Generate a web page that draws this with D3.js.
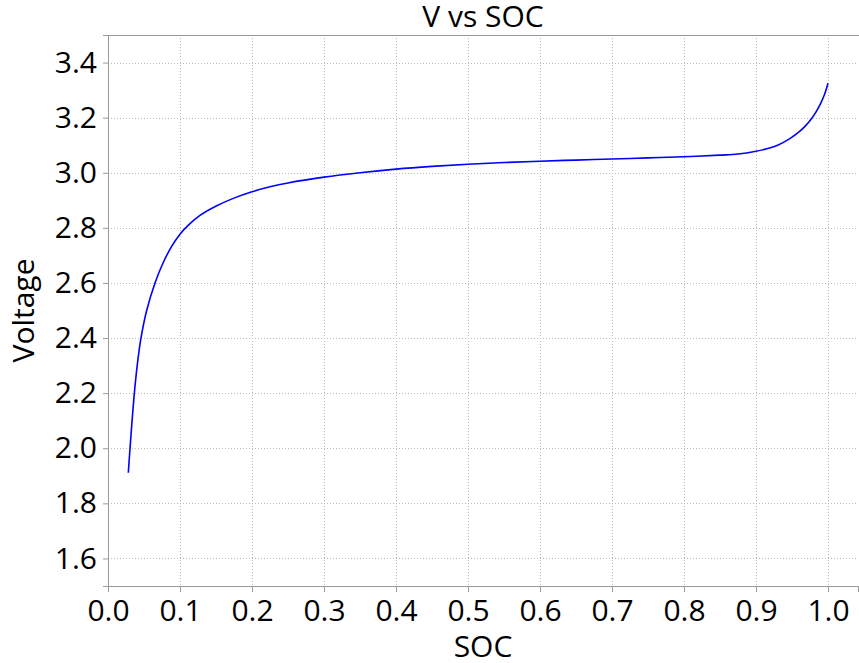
<!DOCTYPE html>
<html lang="en">
<head>
    <meta charset="UTF-8">
    <title>V vs SOC</title>
    <script src="https://cdn.jsdelivr.net/npm/d3@7"></script>
    <style>
        body { margin: 0; background: #fff; }
        text { font-family: "Open Sans", sans-serif; fill: #000; }
    </style>
</head>
<body>
    <svg id="myPlot" width="859" height="663"></svg>
    <script>
        // Data
        const soc = [0.0282, 0.0306, 0.0366, 0.041, 0.0458, 0.0537, 0.0653, 0.0769, 0.0884, 0.1,
                     0.1116, 0.1278, 0.151, 0.174, 0.2, 0.225, 0.25, 0.3, 0.35, 0.4,
                     0.45, 0.5, 0.55, 0.6, 0.65, 0.7, 0.75, 0.8, 0.85, 0.875,
                     0.9, 0.915, 0.93, 0.947, 0.961, 0.969, 0.977, 0.983, 0.989, 0.995,
                     1.0];
        const voltage = [1.911, 2.0, 2.2, 2.31, 2.4, 2.5, 2.6, 2.675, 2.733, 2.777,
                         2.810, 2.845, 2.880, 2.907, 2.931, 2.949, 2.963, 2.984, 3.0, 3.013,
                         3.023, 3.031, 3.037, 3.042, 3.046, 3.050, 3.054, 3.058, 3.064, 3.068,
                         3.078, 3.087, 3.100, 3.124, 3.151, 3.171, 3.196, 3.219, 3.247, 3.283,
                         3.325];
        const xTicks = [0, 0.1, 0.2, 0.3, 0.4, 0.5, 0.6, 0.7, 0.8, 0.9, 1.0];
        const yTicks = [1.6, 1.8, 2.0, 2.2, 2.4, 2.6, 2.8, 3.0, 3.2, 3.4];

        const mLeft = 108, mRight = 858, mTop = 35, mBottom = 586;
        const axisColor = "#999";

        const svg = d3.select("#myPlot");

        const x = d3.scaleLinear().domain([0, 750 / 720]).range([mLeft, mRight]);
        const y = d3.scaleLinear().domain([1.5, 3.5]).range([mBottom, mTop]);

        // Grid
        const grid = svg.append("g")
          .attr("stroke", "#bbb")
          .attr("stroke-width", 1)
          .attr("stroke-dasharray", "1,2");
        grid.selectAll(".vx").data(xTicks.slice(1)).enter()
          .append("line")
          .attr("x1", d => Math.round(x(d)) + 0.5).attr("x2", d => Math.round(x(d)) + 0.5)
          .attr("y1", mTop).attr("y2", mBottom);
        grid.selectAll(".hy").data(yTicks).enter()
          .append("line")
          .attr("y1", d => Math.round(y(d)) + 0.5).attr("y2", d => Math.round(y(d)) + 0.5)
          .attr("x1", mLeft).attr("x2", mRight);

        // Top frame line
        svg.append("line")
          .attr("x1", mLeft).attr("x2", 859)
          .attr("y1", mTop + 0.5).attr("y2", mTop + 0.5)
          .attr("stroke", axisColor);

        // X Axis
        const xAxis = svg.append("g")
          .attr("transform", "translate(0," + mBottom + ")")
          .call(d3.axisBottom(x).tickValues(xTicks).tickFormat(d3.format(".1f"))
            .tickSize(6).tickPadding(8));
        xAxis.select(".domain").attr("stroke", axisColor);
        xAxis.selectAll(".tick line").attr("stroke", axisColor);
        xAxis.selectAll(".tick text")
          .attr("font-size", 30).attr("font-family", "Open Sans").attr("fill", "#000");

        // Y Axis
        const yAxis = svg.append("g")
          .attr("transform", "translate(" + mLeft + ",0)")
          .call(d3.axisLeft(y).tickValues(yTicks).tickFormat(d3.format(".1f"))
            .tickSize(5).tickPadding(6));
        yAxis.select(".domain").attr("stroke", axisColor);
        yAxis.selectAll(".tick line").attr("stroke", axisColor);
        yAxis.selectAll(".tick text")
          .attr("font-size", 30).attr("font-family", "Open Sans").attr("fill", "#000");

        // Curve
        const points = soc.map((s, i) => [s, voltage[i]]);
        svg.append("path")
          .datum(points)
          .attr("fill", "none")
          .attr("stroke", "#0000ff")
          .attr("stroke-width", 1.6)
          .attr("d", d3.line().x(d => x(d[0])).y(d => y(d[1])).curve(d3.curveCatmullRom.alpha(0.5)));

        // Titles
        svg.append("text")
          .attr("x", (mLeft + mRight) / 2).attr("y", 27)
          .attr("text-anchor", "middle").attr("font-size", 30)
          .text("V vs SOC");
        svg.append("text")
          .attr("x", (mLeft + mRight) / 2).attr("y", 657)
          .attr("text-anchor", "middle").attr("font-size", 30)
          .text("SOC");
        svg.append("text")
          .attr("transform", "translate(34," + (mTop + mBottom) / 2 + ") rotate(-90)")
          .attr("text-anchor", "middle").attr("font-size", 30)
          .text("Voltage");
    </script>
</body>
</html>
